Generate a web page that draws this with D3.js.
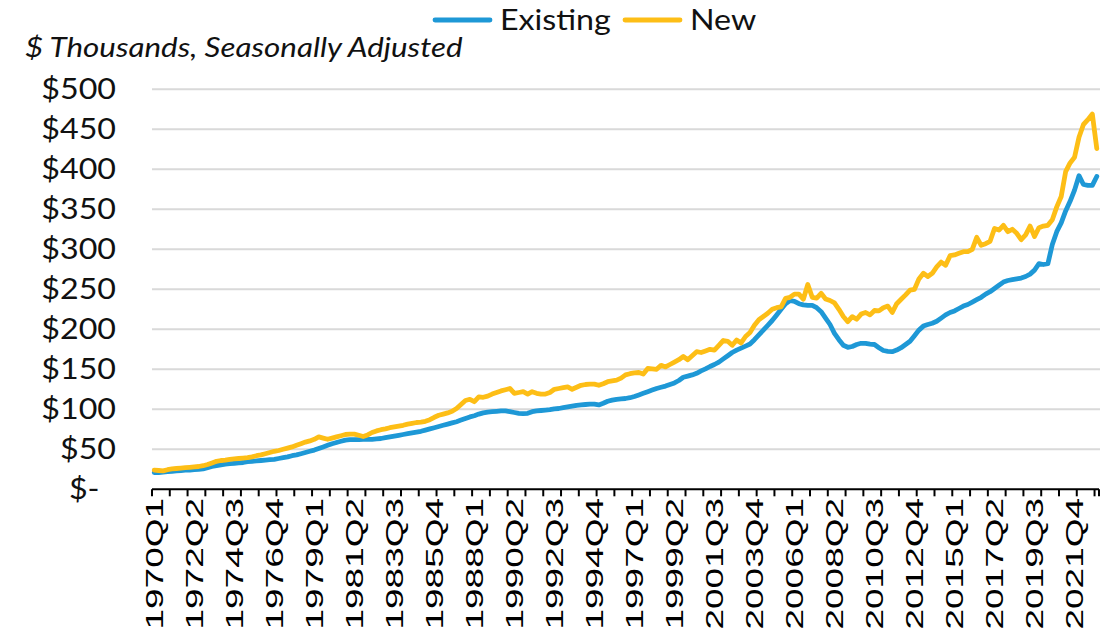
<!DOCTYPE html>
<html><head><meta charset="utf-8">
<script src="https://cdn.jsdelivr.net/npm/d3@7"></script>
<style>body{margin:0;background:#fff}</style>
</head><body>
<svg id="c" width="1112" height="629"></svg>
<script>
// ---- DATA ----
const startYear = 1970, lastYear = 2023, lastQuarter = 1;
const quarters = [];
for (let yr = startYear; yr <= lastYear; yr++) {
  for (let q = 1; q <= 4; q++) {
    if (yr === lastYear && q > lastQuarter) break;
    quarters.push(yr + "Q" + q);
  }
}
const seriesNames = ["Existing", "New"];
const existing = [
  21, 21, 21.5, 22,  22.5, 23, 23.5, 24,  24, 24.5, 25, 25.5,  27, 28.5, 29.5, 30.5,
  31.5, 32, 32.5, 33,  33.5, 34.5, 35, 35.5,  36, 36.5, 37, 37.5,  38.5, 39.5, 40.5, 42,
  43, 44.5, 46, 47.5,  49, 51, 53, 55,  57, 58.5, 60, 61.5,  62, 62, 62, 62.5,
  62.5, 62.5, 63, 63.5,  64.5, 65.5, 66.5, 67.5,  68.5, 69.5, 70.5, 71.5,  72.5, 74, 75.5, 77,
  78.5, 80, 81.5, 83,  84.5, 86.5, 88.5, 90.5,  92, 94, 95.5, 96.5,  97, 97.5, 98, 98,
  97, 96, 95, 94.5,  95, 97, 98, 98.5,  99, 99.5, 100.5, 101,  102, 103, 104, 105,
  105.5, 106, 106.5, 106.5,  105.5, 107.5, 110, 111.5,  112.5, 113, 113.5, 114.5,  116, 118, 120, 122,
  124, 126, 127.5, 129,  131, 133, 136, 140,  141.5, 143, 145, 148,  150.5, 153.5, 156, 159,
  163, 167, 171, 174,  176.5, 179, 181.6, 187,  193, 199, 205, 211,  218, 225, 232, 236,
  235, 232, 230.5, 230,  230, 227, 222, 214,  206, 195, 187, 180,  177.5, 178.5, 181, 182.5,
  182.5, 181.5, 181, 177,  173.5, 172.5, 172, 174,  177, 181, 185, 192,  199, 204, 206, 207.5,
  210, 214, 218, 221,  223, 226, 229, 231,  234, 237, 240, 244,  247, 251, 255, 259,
  261, 262, 263, 264,  266, 269, 274, 282,  281, 282, 306, 322,  333, 348, 360, 374,
  392, 381, 380, 380,  391
];
const newHomes = [
  24, 23.5, 23, 24.5,  25.5, 26, 26.5, 27,  27.5, 28, 28.5, 29.5,  31, 33, 35, 36,
  36.5, 37.5, 38, 38.5,  39, 39.5, 40.5, 42,  43, 44.5, 46, 47.5,  48.5, 50, 51.5, 53,
  55, 57, 59, 60.5,  62.5, 65.5, 64, 62.5,  64, 65.5, 67, 68.5,  69, 69, 67.5, 66,
  68, 71, 73, 74.5,  75.5, 77, 78, 79,  80, 81.5, 82.5, 83.5,  84, 85, 87, 90,
  92.5, 94, 95.5, 97.5,  101, 106, 111, 112.5,  109.5, 115.5, 115, 116.5,  119, 121, 123, 124.5,
  126, 120, 121, 122,  119, 122, 120, 119,  119, 121, 125, 126,  127, 128, 125, 127.5,
  130, 131, 131.5, 131.5,  130, 132, 134.5, 135.5,  136.5, 139, 143, 144.5,  145.5, 146, 144, 151,
  150.5, 150, 155, 153,  156, 159, 162, 166,  162, 167, 172, 171,  173, 175, 174, 180,
  186, 185, 180, 186.6,  183, 191, 196, 205,  212, 216, 220, 225,  227, 228, 238.7, 240,
  244, 244, 237.5, 256,  240, 239, 245, 238,  236, 233, 225, 216,  209.5, 215.8, 212.5, 219,
  221, 218, 223.5, 223,  227, 229, 221, 232,  237.5, 243, 249, 250,  263, 270, 266, 270,
  278, 284, 280, 292,  293, 295, 297, 297,  300, 315, 305, 307,  310, 326, 324, 330,
  322, 325, 320, 312,  318, 329, 316, 327,  329, 330, 337, 353,  366, 397, 408, 415,
  440, 456, 462, 469,  426
];
const yTicks = [0, 50, 100, 150, 200, 250, 300, 350, 400, 450, 500];
const yTickLabels = ["$-", "$50", "$100", "$150", "$200", "$250", "$300", "$350", "$400", "$450", "$500"];
const labelEvery = 9;
const tickEvery = 4;
const yTitle = "$ Thousands, Seasonally Adjusted";
const colors = { Existing: "#1E98D6", New: "#FDBE16" };

// ---- CHART ----
const svg = d3.select("#c");
const pL = 152, pR = 1099, pT = 89.3, pB = 489.3;
const wide = 1.15; // horizontal stretch of the text glyphs
const x = d3.scaleBand().domain(quarters).range([pL, pR]).padding(0);
const bw = x.bandwidth();
const xLin = d3.scaleLinear().domain([0, quarters.length]).range([pL, pR]);
const y = d3.scaleLinear().domain([0, 500]).range([pB, pT]);

// gridlines
svg.append("g").selectAll("line").data(yTicks.filter(v => v > 0)).join("line")
  .attr("x1", pL).attr("x2", pR + 1)
  .attr("y1", d => y(d)).attr("y2", d => y(d))
  .attr("stroke", "#d9d9d9").attr("stroke-width", 2);

// y labels
svg.append("g").selectAll("text").data(yTicks).join("text")
  .attr("transform", d => `translate(116,${y(d)}) scale(${wide},1)`)
  .attr("dy", "0.36em")
  .attr("text-anchor", "end")
  .attr("font-family", "Lato, sans-serif").attr("font-size", 28).attr("fill", "#111")
  .text((d, i) => i === 0 ? yTickLabels[i] + "\u00a0\u00a0" : yTickLabels[i]);

// lines
const series = [
  { name: "Existing", values: existing },
  { name: "New", values: newHomes }
];
const line = d3.line()
  .x((d, i) => x(quarters[i]) + bw / 2)
  .y(d => y(d));
svg.append("g").selectAll("path").data(series).join("path")
  .attr("d", d => line(d.values))
  .attr("fill", "none")
  .attr("stroke", d => colors[d.name])
  .attr("stroke-width", 4.8)
  .attr("stroke-linejoin", "round")
  .attr("stroke-linecap", "round");

// x axis line and ticks
svg.append("line").attr("x1", pL).attr("x2", pR).attr("y1", pB).attr("y2", pB)
  .attr("stroke", "#000").attr("stroke-width", 2);
const tickIdx = d3.range(0, quarters.length, tickEvery).concat([quarters.length]);
svg.append("g").selectAll("line").data(tickIdx).join("line")
  .attr("x1", d => xLin(d)).attr("x2", d => xLin(d))
  .attr("y1", pB).attr("y2", pB + 7)
  .attr("stroke", "#000").attr("stroke-width", 2);

// x labels
const labeled = quarters.filter((q, i) => i % labelEvery === 0);
svg.append("g").selectAll("text").data(labeled).join("text")
  .attr("transform", d => `translate(${x(d) + bw / 2},498) rotate(-90) scale(1.54,1)`)
  .attr("text-anchor", "end").attr("dy", "0.36em")
  .attr("font-family", "'Liberation Sans', Arial, sans-serif").attr("font-size", 24).attr("fill", "#000")
  .text(d => d);

// y title
svg.append("text").attr("transform", `translate(25,57) scale(${wide * 1.01},1)`)
  .attr("font-family", "Lato, sans-serif").attr("font-style", "italic")
  .attr("font-size", 27).attr("fill", "#111").text(yTitle);

// legend
const legend = [
  { name: "Existing", x1: 435, x2: 490, tx: 500 },
  { name: "New", x1: 625, x2: 680, tx: 690 }
];
const lg = svg.append("g");
lg.selectAll("line").data(legend).join("line")
  .attr("x1", d => d.x1).attr("x2", d => d.x2).attr("y1", 20).attr("y2", 20)
  .attr("stroke", d => colors[d.name]).attr("stroke-width", 4.8).attr("stroke-linecap", "round");
lg.selectAll("text").data(legend).join("text")
  .attr("transform", d => `translate(${d.tx},30) scale(${wide},1)`)
  .attr("font-family", "Lato, sans-serif").attr("font-size", 28).attr("fill", "#111")
  .text(d => d.name);
</script>
</body></html>
